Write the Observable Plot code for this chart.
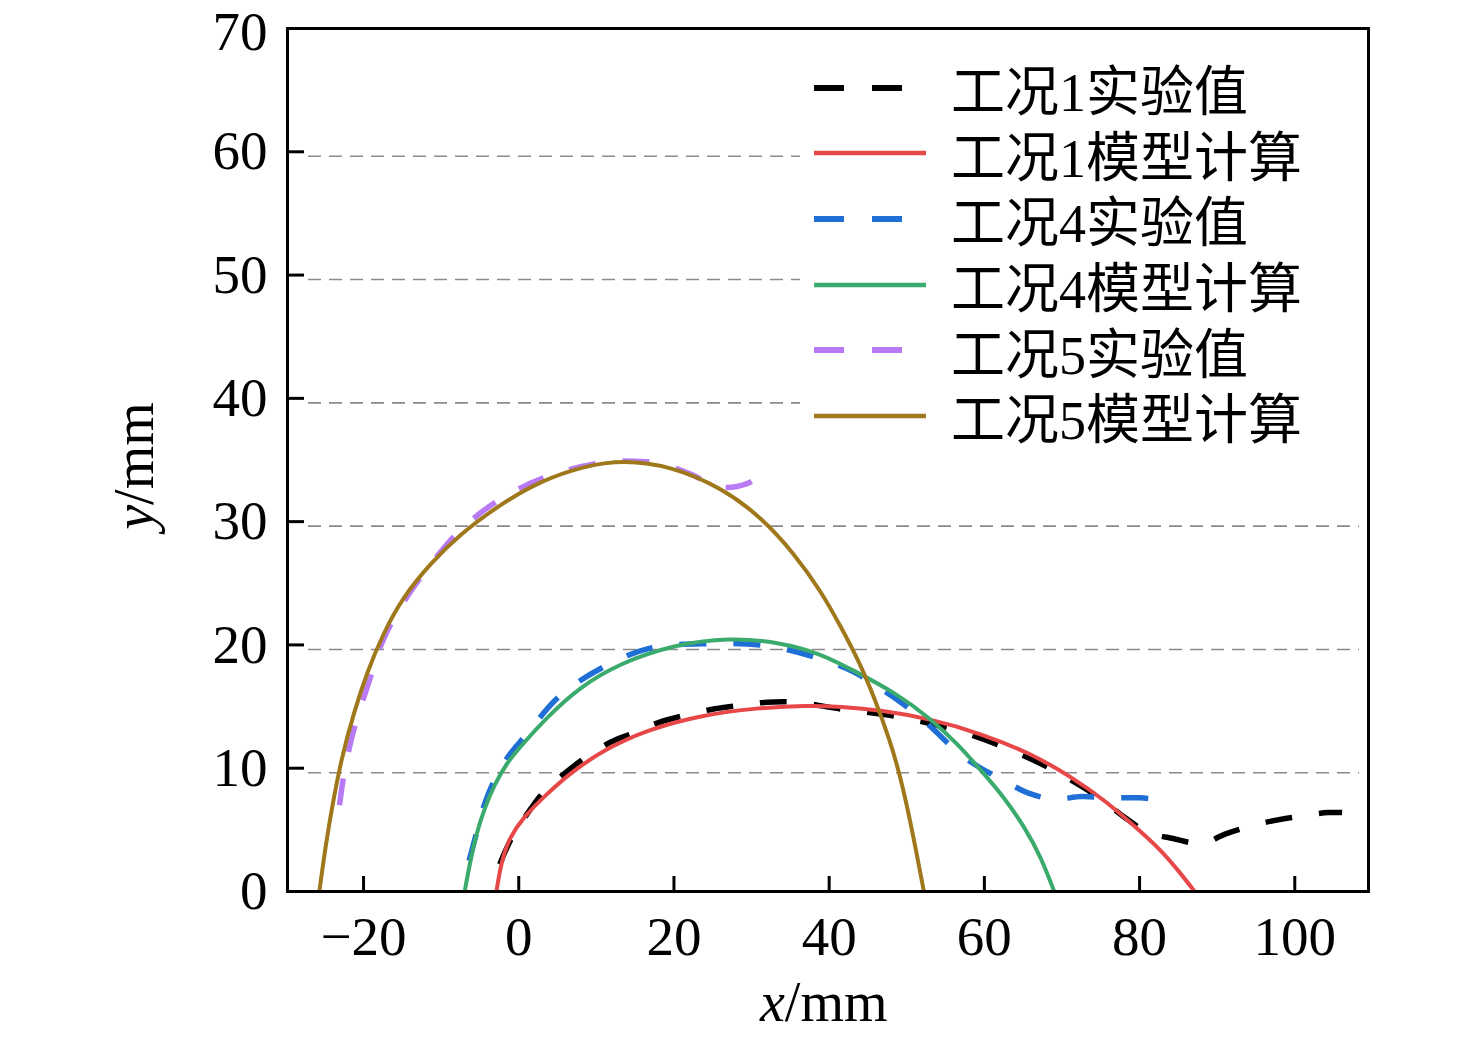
<!DOCTYPE html>
<html><head><meta charset="utf-8">
<script src="https://cdn.jsdelivr.net/npm/d3@7"></script>
<script src="https://cdn.jsdelivr.net/npm/@observablehq/plot@0.6"></script>
<style>
body{margin:0;background:#fff;}
#wrap{position:relative;width:1476px;height:1039px;}
.lab{position:absolute;font-family:"Liberation Serif","Times New Roman",serif;font-size:56px;color:#000;line-height:1;white-space:nowrap;}
#legend{position:absolute;left:800px;top:50px;width:546px;padding:5px 0 12px 14px;background:#fff;font-family:"Liberation Serif","Noto Sans CJK SC",serif;font-size:54px;color:#000;}
.row{display:flex;align-items:center;height:65.6px;}
.row svg{display:block;margin-right:25px;}
</style></head>
<body>
<div id="wrap">
<div id="chart"></div>
<div class="lab" id="xlab" style="left:760px;top:974px;"><i>x</i>/mm</div>
<div class="lab" id="ylab" style="left:134px;top:466px;transform:translate(-50%,-50%) rotate(-90deg);"><i>y</i>/mm</div>
<div id="legend"></div>
</div>
<script>
// ---- data ----
const seriesNames = ["工况1实验值","工况1模型计算","工况4实验值","工况4模型计算","工况5实验值","工况5模型计算"];
const seriesColors = ["#000000","#e84747","#1f6fd6","#3aaa6d","#b87bf5","#a0781c"];
const seriesDashed = [true,false,true,false,true,false];

// 工况1 实验值
const exp1X = [-2.45,-0.94,1.2,3.4,6.15,8.7,11.8,15.0,18.0,21.5,25.1,28.6,32.0,35.7,41.5,48.6,55.7,61.8,68.1,74.1,78.1,81.1,84.3,88.0,91.2,95.5,99.6,104.3,106.1];
const exp1Y = [2.2,4.3,6.4,8.2,9.7,10.9,12.1,12.9,13.7,14.3,14.8,15.1,15.35,15.35,14.8,14.2,13.2,11.9,10.1,7.9,6.0,4.8,4.3,3.9,4.7,5.5,6.0,6.4,6.4];

// 工况1 模型计算
const mod1X = [-2.88,-2.23,-1.16,0.56,3.58,7.0,11.3,16.5,23.4,30.8,37.2,41.5,46.7,53.1,59.6,66.0,71.2,75.5,79.0,82.4,85.0,87.1];
const mod1Y = [0.0,2.5,4.4,6.0,7.9,9.8,11.6,13.1,14.3,14.9,15.1,15.0,14.7,14.0,12.8,11.2,9.3,7.4,5.5,3.6,1.7,0.0];

// 工况4 实验值
const exp4X = [-6.4,-5.5,-4.4,-3.0,-1.3,0.8,5.35,10.9,16.7,24.2,31.8,38.7,43.2,46.0,48.9,51.8,54.2,56.7,59.3,62.5,65.6,69.0,72.5,76.3,80.0,81.9];
const exp4Y = [2.5,4.6,7.1,9.2,11.0,12.6,15.9,18.2,19.7,20.1,19.95,18.9,17.8,16.7,15.5,14.1,12.7,11.2,10.1,9.0,8.0,7.5,7.7,7.6,7.6,7.5];

// 工况4 模型计算
const mod4X = [-6.97,-6.33,-5.46,-4.39,-3.10,-1.59,0.56,3.58,7.88,13.0,19.8,27.2,33.7,38.9,43.2,48.6,53.1,56.5,59.6,62.6,65.2,67.3,69.0];
const mod4Y = [0.0,2.2,4.7,6.8,8.7,10.4,12.0,14.1,16.6,18.5,20.0,20.6,20.2,19.3,17.9,16.1,14.0,12.0,9.8,7.6,5.2,2.8,0.0];

// 工况5 实验值
const exp5X = [-23.1,-22.6,-21.7,-20.7,-19.3,-17.6,-15.2,-12.0,-7.4,-1.9,4.3,10.9,15.0,18.2,22.0,26.0,29.5,31.6];
const exp5Y = [7.0,9.2,12.0,14.3,17.0,20.2,23.1,26.0,29.4,32.0,33.8,34.8,34.9,34.7,33.9,32.8,33.1,34.0];

// 工况5 模型计算
const mod5X = [-25.7,-24.8,-23.9,-22.8,-21.3,-19.6,-17.5,-14.9,-11.4,-7.55,-2.4,2.8,8.3,13.5,19.6,26.0,31.2,35.5,38.9,41.5,43.9,45.9,47.8,49.2,50.7,52.2];
const mod5Y = [0.0,4.1,7.4,10.9,14.4,17.7,20.9,23.9,26.6,29.0,31.4,33.3,34.5,35.0,34.5,32.8,30.4,27.4,24.4,21.5,18.6,15.6,12.3,9.3,5.0,0.0];

const xTicks = [-20,0,20,40,60,80,100];
const yTicks = [0,10,20,30,40,50,60,70];
const yGrid = [10,20,30,40,50,60];

const xsAll = [exp1X,mod1X,exp4X,mod4X,exp5X,mod5X];
const ysAll = [exp1Y,mod1Y,exp4Y,mod4Y,exp5Y,mod5Y];

const lineMarks = xsAll.map((xs, s) => {
  const data = xs.map((x, i) => ({x, y: ysAll[s][i]}));
  return Plot.line(data, {
    x: "x", y: "y",
    stroke: seriesColors[s],
    strokeWidth: seriesDashed[s] ? 5.5 : 4,
    strokeDasharray: seriesDashed[s] ? "27,27" : null,
    strokeLinecap: "butt",
    curve: seriesDashed[s] ? "catmull-rom" : "basis"
  });
});

const plot = Plot.plot({
  width: 1476, height: 1039,
  marginLeft: 287, marginRight: 108, marginTop: 28, marginBottom: 148,
  style: {fontFamily: "'Liberation Serif','Times New Roman',serif", color: "#000", background: "#fff", overflow: "visible"},
  x: {domain: [-29.8, 109.5], label: null},
  y: {domain: [0, 70], label: null},
  marks: [
    Plot.ruleY(yGrid, {y: d => d, dy: 4.5, insetLeft: 21, insetRight: 9, stroke: "#8a8a8a", strokeWidth: 1.6, strokeDasharray: "13,8"}),
    ...lineMarks,
    Plot.frame({stroke: "#000", strokeWidth: 3}),
    Plot.axisX({ticks: xTicks, tickSize: -15, strokeWidth: 3, tickFormat: () => "", label: null}),
    Plot.axisX({ticks: xTicks, tickSize: 0, tickPadding: 24, fontSize: 55, label: null}),
    Plot.axisY({ticks: yTicks, tickSize: -17, strokeWidth: 3, tickFormat: () => "", label: null}),
    Plot.axisY({ticks: yTicks.slice(0, -1), tickSize: 0, tickPadding: 20, fontSize: 55, label: null}),
    Plot.axisY({ticks: yTicks.slice(-1), tickSize: 0, tickPadding: 20, fontSize: 55, dy: 4, label: null})
  ]
});
document.getElementById("chart").appendChild(plot);

// legend
const legend = document.getElementById("legend");
seriesNames.forEach((name, s) => {
  const row = document.createElement("div");
  row.className = "row";
  const dashed = seriesDashed[s];
  row.innerHTML = `<svg width="112" height="12"><line x1="0" y1="6" x2="${dashed ? 91 : 112}" y2="6" stroke="${seriesColors[s]}" stroke-width="${dashed ? 6 : 4.5}" ${dashed ? 'stroke-dasharray="30,28"' : ''}/></svg><span>${name}</span>`;
  legend.appendChild(row);
});
</script>
</body></html>
